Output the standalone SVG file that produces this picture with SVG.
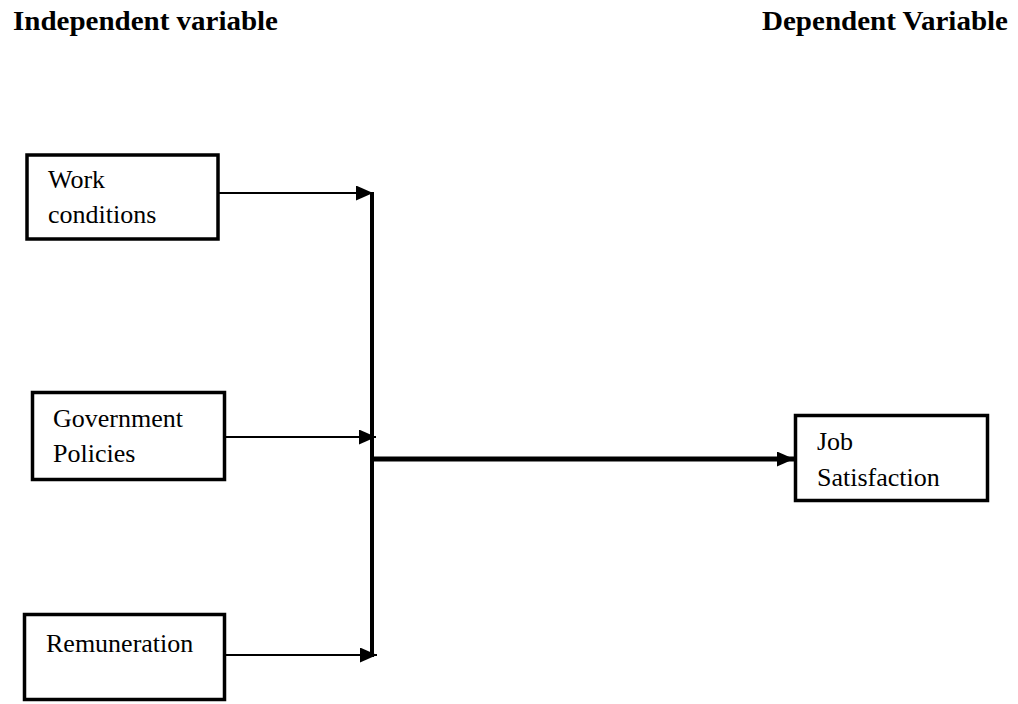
<svg xmlns="http://www.w3.org/2000/svg" width="1018" height="704" viewBox="0 0 1018 704">
<style>
.box{fill:#fff;stroke:#000;stroke-width:3.5}
.t{font-size:26px;fill:#000}
.h{font-size:27px;font-weight:bold;fill:#000}
.c{stroke:#000;fill:none}
</style>
<defs>
<marker id="ah" markerUnits="userSpaceOnUse" markerWidth="18" markerHeight="16" refX="17" refY="7.5" orient="auto">
<polygon points="0,0 17,7.5 0,15" fill="#000"/>
</marker>
<marker id="ahb" markerUnits="userSpaceOnUse" markerWidth="18" markerHeight="16" refX="17" refY="7.5" orient="auto">
<polygon points="0,0 17,7.5 0,15" fill="#000"/>
</marker>
</defs>
<rect width="1018" height="704" fill="#fff"/>
<g font-family="'Liberation Serif', 'Times New Roman', 'DejaVu Serif', serif">
<text class="h" x="13" y="30" textLength="265" lengthAdjust="spacingAndGlyphs">Independent variable</text>
<text class="h" x="762" y="30" textLength="246" lengthAdjust="spacingAndGlyphs">Dependent Variable</text>
<g id="connectors">
<line class="c" x1="219" y1="193" x2="373" y2="193" stroke-width="2" marker-end="url(#ah)"/>
<line class="c" x1="226" y1="437" x2="376" y2="437" stroke-width="2" marker-end="url(#ah)"/>
<line class="c" x1="226" y1="655" x2="377" y2="655" stroke-width="2" marker-end="url(#ah)"/>
<line class="c" x1="372" y1="192" x2="372" y2="657" stroke-width="4"/>
<line class="c" x1="372" y1="459" x2="794" y2="459" stroke-width="5" marker-end="url(#ahb)"/>
</g>
<g id="work">
<rect class="box" x="27" y="155" width="191" height="84"/>
<text class="t" x="48" y="188">Work</text>
<text class="t" x="48" y="223">conditions</text>
</g>
<g id="government">
<rect class="box" x="32.5" y="392.5" width="192" height="87"/>
<text class="t" x="53" y="427">Government</text>
<text class="t" x="53" y="462">Policies</text>
</g>
<g id="remuneration">
<rect class="box" x="24.5" y="614.5" width="200" height="85"/>
<text class="t" x="46" y="652">Remuneration</text>
</g>
<g id="job">
<rect class="box" x="795.5" y="415.5" width="192" height="85"/>
<text class="t" x="817" y="450">Job</text>
<text class="t" x="817" y="486">Satisfaction</text>
</g>
</g>
</svg>
